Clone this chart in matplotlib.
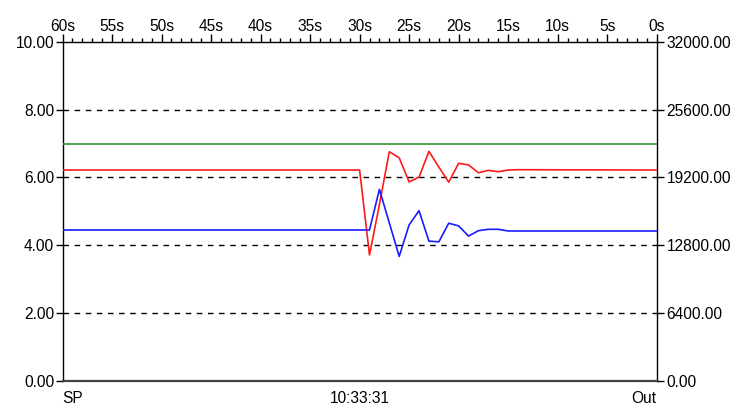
import matplotlib
matplotlib.use("Agg")
import matplotlib.pyplot as plt
from matplotlib.ticker import MultipleLocator, FuncFormatter

# Seconds before now; the flat stretches are given by their end points
sp_time = [60, 0]
sp_vals = [7.0, 7.0]

pv_time = [60, 30, 29, 28, 27, 26, 25, 24, 23, 22, 21, 20, 19, 18, 17, 16, 15, 14, 0]
pv_vals = [6.22, 6.22, 3.71, 5.2, 6.76, 6.58, 5.87, 6.01, 6.77, 6.31, 5.86,
           6.42, 6.37, 6.14, 6.21, 6.17, 6.22, 6.23, 6.22]

out_time = [60, 29, 28, 27, 26, 25, 24, 23, 22, 21, 20, 19, 18, 17, 16, 15, 0]
out_vals = [4.45, 4.45, 5.65, 4.66, 3.67, 4.6, 5.02, 4.12, 4.10, 4.65, 4.57,
            4.27, 4.43, 4.47, 4.47, 4.42, 4.42]

left_ticks = [0, 2, 4, 6, 8, 10]
right_ticks = [0, 6400, 12800, 19200, 25600, 32000]
bottom_labels = ["SP", "10:33:31", "Out"]

plt.rcParams["font.family"] = ["Liberation Sans", "DejaVu Sans"]
FS = 11.2

W, H = 741, 407
fig = plt.figure(figsize=(W / 100, H / 100), dpi=100)
x0, x1, y0, y1 = 62.5, 656.7, 42.0, 380.7
ax = fig.add_axes([x0 / W, (H - y1) / H, (x1 - x0) / W, (y1 - y0) / H])

ax.plot(sp_time, sp_vals, color="#2e952e", lw=1.2, zorder=3)
ax.plot(pv_time, pv_vals, color="#ff1a1a", lw=1.2, zorder=3)
ax.plot(out_time, out_vals, color="#1a1aff", lw=1.2, zorder=4)

ax.set_xlim(60, 0)
ax.set_ylim(0, 10)

# dashed reference lines
for v in left_ticks[1:-1]:
    ax.axhline(v, color="black", lw=1.0, ls=(0, (4, 4)), zorder=2)

for side in ["left", "right", "top"]:
    ax.spines[side].set_color("black")
    ax.spines[side].set_linewidth(1.0)
ax.spines["bottom"].set_color("#444444")
ax.spines["bottom"].set_linewidth(1.6)

# time axis along the top
ax.xaxis.tick_top()
ax.xaxis.set_major_locator(MultipleLocator(5))
ax.xaxis.set_minor_locator(MultipleLocator(1))
ax.xaxis.set_major_formatter(FuncFormatter(lambda v, p: f"{int(round(v))}s"))
ax.tick_params(axis="x", which="major", direction="out", length=6, width=1,
               pad=0, labelsize=FS, colors="black")
ax.tick_params(axis="x", which="minor", direction="out", length=3, width=1)

ax.set_yticks(left_ticks)
ax.yaxis.set_major_formatter(FuncFormatter(lambda v, p: f"{v:.2f}"))
ax.tick_params(axis="y", direction="out", length=5, width=1, pad=1,
               labelsize=FS, colors="black")

ax2 = ax.twinx()
ax2.set_ylim(0, 32000)
ax2.set_yticks(right_ticks)
ax2.yaxis.set_major_formatter(FuncFormatter(lambda v, p: f"{v:.2f}"))
ax2.tick_params(axis="y", direction="out", length=5, width=1, pad=2,
                labelsize=FS, colors="black")
for s in ax2.spines.values():
    s.set_visible(False)

ax.text(0.0, -0.03, bottom_labels[0], transform=ax.transAxes, ha="left",
        va="top", fontsize=FS)
ax.text(0.5, -0.03, bottom_labels[1], transform=ax.transAxes, ha="center",
        va="top", fontsize=FS)
ax.text(1.0, -0.03, bottom_labels[2], transform=ax.transAxes, ha="right",
        va="top", fontsize=FS)

fig.savefig("out.png", dpi=100, facecolor="white")
